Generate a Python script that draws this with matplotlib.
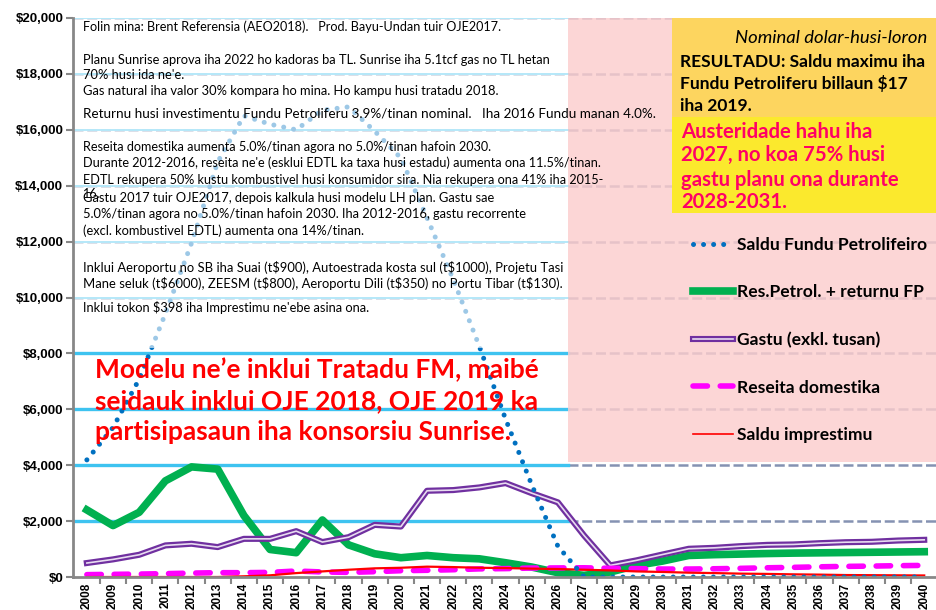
import matplotlib
matplotlib.use('Agg')
import matplotlib.pyplot as plt
from matplotlib.lines import Line2D
from matplotlib.patches import Rectangle
from matplotlib.legend_handler import HandlerTuple
from matplotlib.ticker import FuncFormatter, FixedLocator

plt.rcParams['font.family'] = ['Lato', 'DejaVu Sans']

# tokon dolar, nominal
years = list(range(2008, 2041))
saldu_fp = [4190, 5350, 7080, 9420, 11950, 14850, 16500, 16200, 16000, 16700,
            16820, 15950, 14990, 12850, 10650, 8250, 5650, 3300, 1100, 0,
            0, 0, 0, 0, 0, 0, 0, 0, 0, 0, 0, 0, 0]
res_petrol = [2400, 1840, 2315, 3440, 3940, 3860, 2200, 985, 870, 2040,
              1150, 830, 690, 770, 690, 650, 510, 356, 154, 59,
              178, 415, 570, 771, 800, 820, 840, 855, 865, 875, 885, 895, 905]
gastu = [500, 630, 795, 1130, 1190, 1070, 1365, 1365, 1640, 1250,
         1425, 1865, 1805, 3085, 3110, 3205, 3360, 3000, 2670, 1485,
         415, 595, 805, 1010, 1045, 1105, 1150, 1165, 1210, 1245, 1260, 1305, 1330]
reseita = [85, 95, 105, 120, 140, 155, 155, 165, 215, 180,
           165, 190, 225, 240, 260, 290, 300, 320, 325, 330,
           310, 300, 285, 285, 295, 310, 330, 345, 365, 380, 390, 405, 415]
imprestimu = [0, 0, 0, 0, 0, 0, 25, 60, 140, 200,
              260, 310, 330, 370, 355, 330, 320, 300, 285, 260,
              235, 200, 180, 155, 140, 120, 110, 95, 85, 70, 65, 60, 55]

# (y pixel, font size, text)
notes = [
    (27, 9.1, "Folin mina: Brent Referensia (AEO2018).   Prod. Bayu-Undan tuir OJE2017."),
    (60, 9.3, "Planu Sunrise aprova iha 2022 ho kadoras ba TL. Sunrise iha 5.1tcf gas no TL hetan"),
    (75, 9.3, "70% husi ida ne'e."),
    (91, 9.3, "Gas natural iha valor 30% kompara ho mina. Ho kampu husi tratadu 2018."),
    (114, 9.7, "Returnu husi investimentu Fundu Petroliferu 3.9%/tinan nominal.   Iha 2016 Fundu manan 4.0%."),
    (147, 9.1, "Reseita domestika aumenta 5.0%/tinan agora no 5.0%/tinan hafoin 2030."),
    (163, 9.1, "Durante 2012-2016, reseita ne'e (esklui EDTL ka taxa husi estadu) aumenta ona 11.5%/tinan."),
    (180, 9.1, "EDTL rekupera 50% kustu kombustivel husi konsumidor sira. Nia rekupera ona 41% iha 2015-"),
    (194, 9.1, "16."),
    (198, 9.3, "Gastu 2017 tuir OJE2017, depois kalkula husi modelu LH plan. Gastu sae"),
    (214, 9.3, "5.0%/tinan agora no 5.0%/tinan hafoin 2030. Iha 2012-2016, gastu recorrente"),
    (231, 9.3, "(excl. kombustivel EDTL) aumenta ona 14%/tinan."),
    (268, 9.4, "Inklui Aeroportu no SB iha Suai (t$900), Autoestrada kosta sul (t$1000), Projetu Tasi"),
    (284, 9.4, "Mane seluk (t$6000), ZEESM (t$800), Aeroportu Dili (t$350) no Portu Tibar (t$130)."),
    (307, 9.3, "Inklui tokon $398 iha Imprestimu ne'ebe asina ona."),
]

W, H = 936, 610
def fx(x):
    return x / W
def fy(y):
    return 1 - y / H

fig = plt.figure(figsize=(9.36, 6.1), dpi=100)
ax = fig.add_axes([fx(73), fy(577), fx(936 - 73), (577 - 18) / H])
x0, x1 = 2007.47, 2040.45
split = 2026.4
ax.set_xlim(x0, x1)
ax.set_ylim(0, 20000)

# grid
for v in range(2000, 20001, 2000):
    ax.plot([x0, x1], [v, v], color='#8592b2', lw=1.8, ls=(0, (4, 1.5)), zorder=1)
    ax.plot([x0, split], [v, v], color='#3ec3f0', lw=2.4 if v <= 8000 else 1.4, zorder=1.1)

ax.plot(years, res_petrol, color='#00b050', lw=5.5, solid_joinstyle='round', zorder=2)
ax.plot(years, gastu, color='#7030a0', lw=4.4, zorder=2)
ax.plot(years, gastu, color='#e8dcf0', lw=1.2, zorder=2.05)
ax.plot(years, reseita, color='#ff00ff', lw=4, ls=(0, (2.6, 2.3)), dash_capstyle='round', zorder=2.1)
ax.plot(years, imprestimu, color='#ff0000', lw=1.6, zorder=2.2)
ax.plot(years, saldu_fp, color='#0070c0', lw=3.6, ls=(0, (0.01, 2.0)), dash_capstyle='round', zorder=2.3)

# boxes
ax.add_patch(Rectangle((x0, 8200), split - x0, 20000 - 8200, facecolor='white', alpha=0.62, lw=0, zorder=3))
ax.add_patch(Rectangle((split, 4100), x1 - split, 20000 - 4100, facecolor='#fccdcd', alpha=0.82, lw=0, zorder=3))
fig.add_artist(Rectangle((fx(672), fy(117)), fx(936 - 672), (117 - 18) / H, transform=fig.transFigure,
                         facecolor='#fdd55f', lw=0, zorder=4))
fig.add_artist(Rectangle((fx(672), fy(213)), fx(936 - 672), (213 - 117) / H, transform=fig.transFigure,
                         facecolor='#fbe92d', lw=0, zorder=4))

# axes
for s in ['top', 'right']:
    ax.spines[s].set_visible(False)
for s in ['left', 'bottom']:
    ax.spines[s].set_color('#878787')
    ax.spines[s].set_linewidth(2)
    ax.spines[s].set_zorder(5)
ax.set_yticks(range(0, 20001, 2000))
ax.yaxis.set_major_formatter(FuncFormatter(lambda v, p: '${:,.0f}'.format(v)))
ax.set_xticks(years)
ax.set_xticklabels([str(y) for y in years], rotation=90)
ax.xaxis.set_minor_locator(FixedLocator([y + 0.5 for y in years[:-1]]))
ax.tick_params(axis='y', length=5, width=1.5, color='#878787', pad=2)
ax.tick_params(axis='x', which='major', length=0, pad=4)
ax.tick_params(axis='x', which='minor', length=5, width=1.5, color='#878787')
for lab in ax.get_yticklabels():
    lab.set_fontfamily('Liberation Sans')
    lab.set_fontweight('bold')
    lab.set_fontsize(9.5)
for lab in ax.get_xticklabels():
    lab.set_fontfamily('Liberation Sans')
    lab.set_fontweight('bold')
    lab.set_fontsize(8.5)

# notes
for y, fs, t in notes:
    fig.text(fx(83), fy(y), t.replace('$', r'\$'), fontsize=fs, va='center', ha='left', zorder=6)

red_lines = ["Modelu ne\u2019e inklui Tratadu FM, maib\u00e9",
             "seidauk inklui OJE 2018, OJE 2019 ka",
             "partisipasaun iha konsorsiu Sunrise."]
for y, t in zip([370, 401, 432], red_lines):
    fig.text(fx(95), fy(y), t, fontsize=19, fontweight='bold', color='#ff0000', va='center', zorder=6)

fig.text(fx(927), fy(38), "Nominal dolar-husi-loron", fontsize=13.3, style='italic',
         ha='right', va='center', zorder=6)
for y, t in zip([62, 84, 106], ["RESULTADU: Saldu maximu iha", "Fundu Petroliferu billaun \\$17", "iha 2019."]):
    fig.text(fx(680), fy(y), t, fontsize=12.5, fontweight='bold', va='center', zorder=6)
for y, t in zip([132, 155, 180, 202], ["Austeridade hahu iha", "2027, no koa 75% husi",
                                       "gastu planu ona durante", "2028-2031."]):
    fig.text(fx(681), fy(y), t, fontsize=14.6, fontweight='bold', color='#ff0066', va='center', zorder=6)

# legend
h_fp = Line2D([], [], color='#0070c0', lw=3.6, ls=(0, (0.01, 2.0)), dash_capstyle='round')
h_res = Line2D([], [], color='#00b050', lw=5.5)
h_gastu = (Line2D([], [], color='#7030a0', lw=4.4), Line2D([], [], color='#e8dcf0', lw=1.2))
h_rec = Line2D([], [], color='#ff00ff', lw=4, ls=(0, (2.6, 2.3)), dash_capstyle='round')
h_imp = Line2D([], [], color='#ff0000', lw=1.2)
leg = ax.legend([h_fp, h_res, h_gastu, h_rec, h_imp],
                ["Saldu Fundu Petrolifeiro", "Res.Petrol. + returnu FP", "Gastu (exkl. tusan)",
                 "Reseita domestika", "Saldu imprestimu"],
                handler_map={tuple: HandlerTuple(ndivide=1)},
                loc='upper left', bbox_to_anchor=(fx(684), fy(228)), bbox_transform=fig.transFigure,
                frameon=False, prop={'weight': 'bold', 'size': 12.6}, handlelength=2.3,
                labelspacing=1.8, handletextpad=0.25, borderpad=0)
leg.set_zorder(6)

fig.savefig('out.png', dpi=100)
